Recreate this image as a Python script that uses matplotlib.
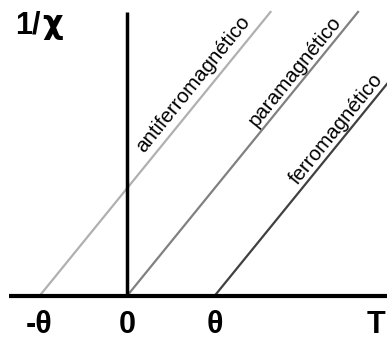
import numpy as np
import matplotlib.pyplot as plt

plt.rcParams['font.family'] = ['Liberation Sans', 'DejaVu Sans']

# Curie-Weiss lines: 1/chi = T - Tc (theta = 1)
names = ['antiferromagnético', 'paramagnético', 'ferromagnético']
t_start = [-1.0, 0.0, 1.0]
t_end = [1.64, 2.64, 2.98]
colors = ['#b0b0b0', '#808080', '#404040']

tick_pos = [-1, 0, 1, 2.84]
tick_labels = ['-θ', '0', 'θ', 'T']

fig = plt.figure(figsize=(3.87, 3.39), dpi=100)
ax = fig.add_axes([0, 0, 1, 1])
ax.set_xlim(-1.451, 2.971)
ax.set_ylim(-0.40, 2.751)
ax.axis('off')

# axes lines
ax.plot([-1.35, 3.0], [0, 0], color='black', lw=3, solid_capstyle='butt')
ax.plot([0, 0], [0, 2.64], color='black', lw=2.5, solid_capstyle='butt')

for t0, t1, c in zip(t_start, t_end, colors):
    ax.plot([t0, t1], [t0 - t0, t1 - t0], color=c, lw=1.6, zorder=1)

# labels along each line
label_xy = [(0.76, 1.965), (1.915, 2.085), (2.395, 1.55)]
for name, (x, y) in zip(names, label_xy):
    ax.text(x, y, name, rotation=51, rotation_mode='anchor',
            ha='center', va='center', fontsize=14.8)

for p, lab in zip(tick_pos, tick_labels):
    ax.text(p, -0.27, lab, ha='center', va='center', fontsize=22,
            fontweight='bold')

ax.text(-1.28, 2.44, '1/', ha='left', va='baseline', fontsize=22,
        fontweight='bold')
ax.text(-0.97, 2.44, 'χ', ha='left', va='baseline', fontsize=23,
        family='DejaVu Sans', fontweight='bold')

fig.savefig('out.png', dpi=100)
